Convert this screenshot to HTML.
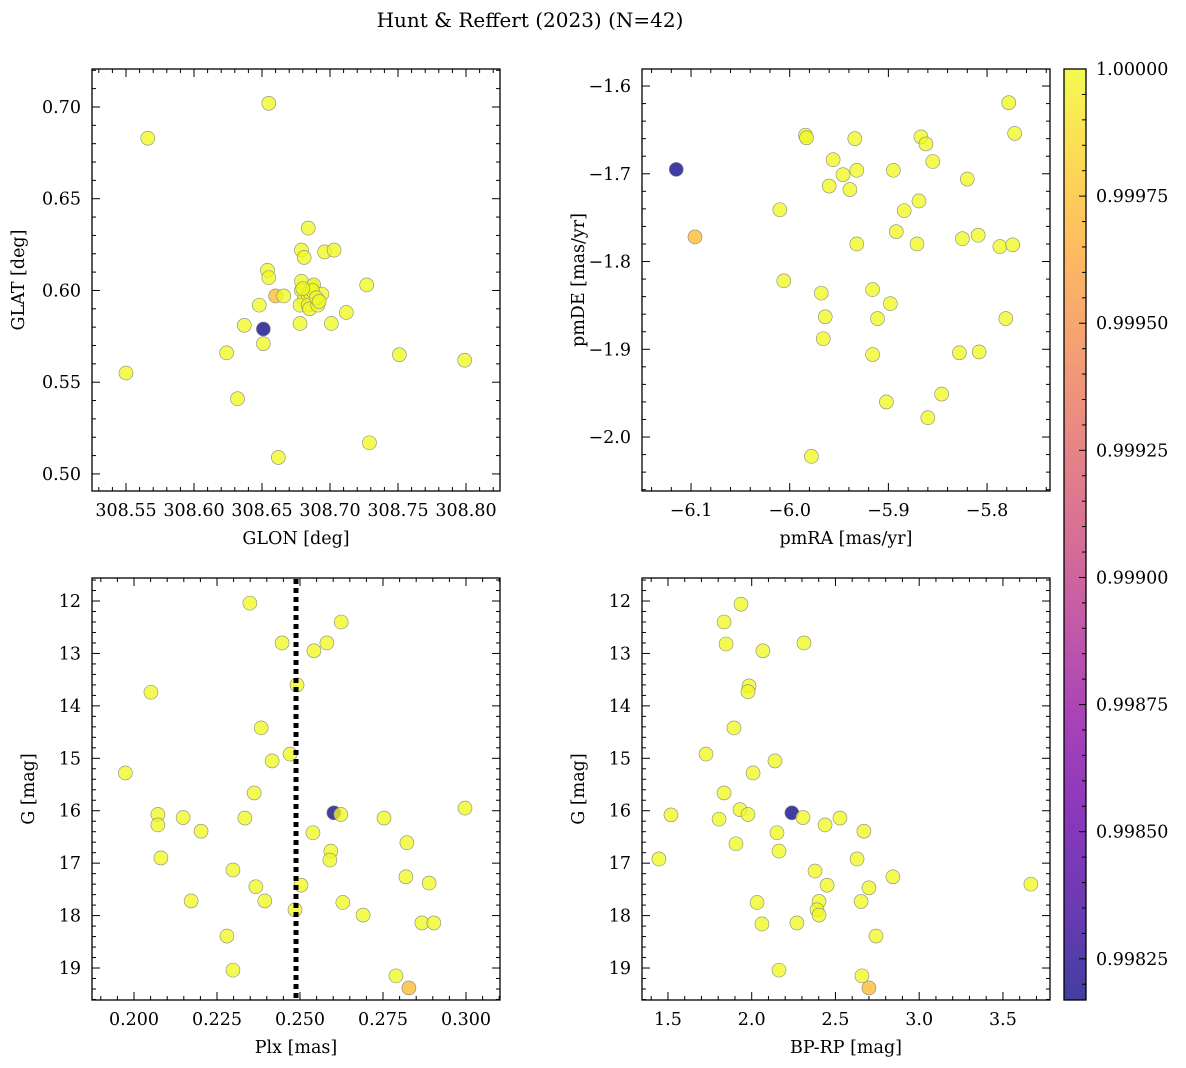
<!DOCTYPE html>
<html><head><meta charset="utf-8"><style>
body{margin:0;background:#fff;}
svg{display:block;}
text{font-family:"DejaVu Serif","Liberation Serif",serif;}
</style></head><body>
<svg id="fig" width="1186" height="1068" xmlns="http://www.w3.org/2000/svg">
<defs>
<linearGradient id="plasma" x1="0" y1="1" x2="0" y2="0">
<stop offset="0" stop-color="#0d0887"/><stop offset="0.1" stop-color="#41049d"/><stop offset="0.2" stop-color="#6a00a8"/><stop offset="0.3" stop-color="#8f0da4"/><stop offset="0.4" stop-color="#b12a90"/><stop offset="0.5" stop-color="#cc4778"/><stop offset="0.6" stop-color="#e16462"/><stop offset="0.7" stop-color="#f2844b"/><stop offset="0.8" stop-color="#fca636"/><stop offset="0.9" stop-color="#fcce25"/><stop offset="1" stop-color="#f0f921"/>
</linearGradient>
</defs>
<text x="530" y="27" font-size="20" text-anchor="middle" font-family="DejaVu Serif, Liberation Serif, serif">Hunt &amp; Reffert (2023) (N=42)</text>
</svg>
<script>
const prob = [0.99817,0.99973].concat(new Array(40).fill(1.0));
const glon = [308.651,308.660,308.655,308.566,308.550,308.632,308.624,308.637,308.651,308.648,308.654,308.655,308.666,308.662,308.678,308.679,308.681,308.684,308.679,308.679,308.681,308.684,308.685,308.687,308.688,308.678,308.684,308.685,308.691,308.694,308.696,308.703,308.701,308.712,308.727,308.729,308.751,308.799,308.687,308.680,308.690,308.692];
const glat = [0.579,0.597,0.702,0.683,0.555,0.541,0.566,0.581,0.571,0.592,0.611,0.607,0.597,0.509,0.582,0.622,0.618,0.634,0.605,0.600,0.595,0.597,0.599,0.602,0.603,0.592,0.592,0.590,0.592,0.598,0.621,0.622,0.582,0.588,0.603,0.517,0.565,0.562,0.600,0.601,0.596,0.594];
const pmra = [-6.115,-6.096,-6.010,-6.006,-5.984,-5.983,-5.956,-5.946,-5.960,-5.939,-5.934,-5.932,-5.932,-5.968,-5.964,-5.966,-5.978,-5.916,-5.911,-5.916,-5.898,-5.902,-5.895,-5.884,-5.892,-5.867,-5.862,-5.855,-5.869,-5.871,-5.860,-5.846,-5.820,-5.825,-5.809,-5.828,-5.808,-5.787,-5.774,-5.778,-5.772,-5.781];
const pmde = [-1.695,-1.772,-1.741,-1.822,-1.656,-1.659,-1.684,-1.701,-1.714,-1.718,-1.660,-1.696,-1.780,-1.836,-1.863,-1.888,-2.022,-1.832,-1.865,-1.906,-1.848,-1.960,-1.696,-1.742,-1.766,-1.658,-1.666,-1.686,-1.731,-1.780,-1.978,-1.951,-1.706,-1.774,-1.770,-1.904,-1.903,-1.783,-1.781,-1.619,-1.654,-1.865];
const plx = [0.2602,0.2828,0.2349,0.2624,0.2446,0.2581,0.2542,0.2491,0.2051,0.2383,0.2470,0.2416,0.1974,0.2362,0.2623,0.2072,0.2997,0.2148,0.2334,0.2753,0.2072,0.2202,0.2539,0.2822,0.2593,0.2081,0.2590,0.2298,0.2819,0.2889,0.2503,0.2367,0.2172,0.2394,0.2629,0.2690,0.2485,0.2867,0.2903,0.2280,0.2298,0.2789];
const gmag = [16.04,19.38,12.04,12.40,12.80,12.80,12.95,13.60,13.74,14.42,14.92,15.05,15.28,15.66,16.07,16.07,15.95,16.13,16.14,16.14,16.27,16.39,16.42,16.61,16.77,16.90,16.94,17.13,17.26,17.38,17.42,17.45,17.72,17.72,17.75,17.99,17.89,18.14,18.14,18.39,19.04,19.15];
const gmag4 = [16.04,19.38,12.06,12.40,12.82,12.80,12.95,13.62,13.73,14.42,14.92,15.05,15.28,15.66,15.98,16.08,16.07,16.13,16.14,16.16,16.27,16.42,16.39,16.63,16.77,16.92,16.92,17.15,17.26,17.40,17.42,17.47,17.75,17.73,17.73,17.89,17.99,18.16,18.14,18.39,19.04,19.15];
const bprp = [2.240,2.700,1.936,1.835,1.847,2.312,2.067,1.984,1.978,1.894,1.727,2.139,2.008,1.835,1.930,1.518,1.978,2.306,2.527,1.805,2.438,2.151,2.670,1.906,2.163,1.446,2.629,2.378,2.843,3.667,2.450,2.700,2.032,2.402,2.653,2.390,2.402,2.061,2.270,2.742,2.163,2.658];
const plxMean = [0.2488];
const cbTicks = [0.99825,0.99850,0.99875,0.99900,0.99925,0.99950,0.99975,1.00000];

const NS="http://www.w3.org/2000/svg";
const FF="DejaVu Serif, Liberation Serif, serif";
const FS=17.5;
const svg=document.getElementById('fig');
function mk(tag,attrs,parent){const e=document.createElementNS(NS,tag);for(const k in attrs)e.setAttribute(k,attrs[k]);if(tag==='text')e.setAttribute('font-family',FF);(parent||svg).appendChild(e);return e;}
const stops=[[0,"#0d0887"],[0.1,"#41049d"],[0.2,"#6a00a8"],[0.3,"#8f0da4"],[0.4,"#b12a90"],[0.5,"#cc4778"],[0.6,"#e16462"],[0.7,"#f2844b"],[0.8,"#fca636"],[0.9,"#fcce25"],[1,"#f0f921"]];
function hex(h){return[1,3,5].map(i=>parseInt(h.substr(i,2),16));}
function plasma(t){t=Math.max(0,Math.min(1,t));for(let i=1;i<stops.length;i++){if(t<=stops[i][0]){const a=stops[i-1],b=stops[i];const f=(t-a[0])/(b[0]-a[0]);const ca=hex(a[1]),cb=hex(b[1]);return 'rgb('+ca.map((v,j)=>Math.round(v+(cb[j]-v)*f)).join(',')+')';}}return stops[10][1];}
const cmin=0.998169,cmax=1.0;
function fmt(v,d){return v.toFixed(d).replace('-','\u2212');}

function panel(name,box,xr,yr,xs,ys,xMaj,xMin,yMaj,yMin,xd,yd,xlab,ylab){
  const [L,T,R,B]=box;
  const g=mk('g',{});
  
  
  const sx=v=>L+(v-xr[0])/(xr[1]-xr[0])*(R-L);
  const sy=v=>B-(v-yr[0])/(yr[1]-yr[0])*(B-T);
  for(let i=0;i<xs.length;i++){
    const c=mk('circle',{cx:sx(xs[i]),cy:sy(ys[i]),r:7,fill:plasma((prob[i]-cmin)/(cmax-cmin)),'fill-opacity':0.78,stroke:'#888','stroke-width':0.6},g);
    
    
  }
  const ax=mk('g',{},g);
  
  
  mk('rect',{x:L,y:T,width:R-L,height:B-T,fill:'none',stroke:'#000','stroke-width':1.3},ax);
  const lo=Math.min(xr[0],xr[1]),hi=Math.max(xr[0],xr[1]);
  for(let k=Math.ceil(lo/xMin-1e-6);k*xMin<=hi+1e-9;k++){const v=k*xMin,x=sx(v);const maj=Math.abs(v/xMaj-Math.round(v/xMaj))<1e-4;const len=maj?8:4;
    mk('line',{x1:x,x2:x,y1:B,y2:B-len,stroke:'#000'},ax);mk('line',{x1:x,x2:x,y1:T,y2:T+len,stroke:'#000'},ax);
    if(maj){const t=mk('text',{x:x,y:B+25,'font-size':FS,'text-anchor':'middle'},ax);t.textContent=fmt(v,xd);}}
  const ylo=Math.min(yr[0],yr[1]),yhi=Math.max(yr[0],yr[1]);
  for(let k=Math.ceil(ylo/yMin-1e-6);k*yMin<=yhi+1e-9;k++){const v=k*yMin,y=sy(v);const maj=Math.abs(v/yMaj-Math.round(v/yMaj))<1e-4;const len=maj?8:4;
    mk('line',{x1:L,x2:L+len,y1:y,y2:y,stroke:'#000'},ax);mk('line',{x1:R,x2:R-len,y1:y,y2:y,stroke:'#000'},ax);
    if(maj){const t=mk('text',{x:L-11,y:y+6,'font-size':FS,'text-anchor':'end'},ax);t.textContent=fmt(v,yd);}}
  const xl=mk('text',{x:(L+R)/2,y:B+53,'font-size':FS,'text-anchor':'middle'},g);xl.textContent=xlab;
  
  
  const cy=(T+B)/2, lx=L-(yd>=2?68:58);
  const yl=mk('text',{x:lx,y:cy,'font-size':FS,'text-anchor':'middle',transform:`rotate(-90 ${lx} ${cy})`},g);yl.textContent=ylab;
  
  
  return {sx,sy,g};
}
panel('glon-glat-panel',[92,69,500,491],[308.525,308.825],[0.4907,0.7207],glon,glat,0.05,0.01,0.05,0.01,2,2,'GLON [deg]','GLAT [deg]');
panel('pm-panel',[642,69,1050,491],[-6.1497,-5.7362],[-2.0615,-1.5806],pmra,pmde,0.1,0.02,0.1,0.02,1,1,'pmRA [mas/yr]','pmDE [mas/yr]');
const p3=panel('plx-g-panel',[92,578,500,1000],[0.18735,0.31024],[19.61,11.561],plx,gmag,0.025,0.005,1,0.2,3,0,'Plx [mas]','G [mag]');
const ml=mk('line',{x1:p3.sx(plxMean[0]),x2:p3.sx(plxMean[0]),y1:579,y2:999,stroke:'#000','stroke-width':5,'stroke-dasharray':'5,4'},p3.g);


panel('cmd-panel',[642,578,1050,1000],[1.345,3.781],[19.61,11.561],bprp,gmag4,0.5,0.1,1,0.2,1,0,'BP-RP [mag]','G [mag]');

const cb=mk('g',{});


const CT=69,CB=1000,CL=1064,CR=1086;
mk('rect',{x:CL,y:CT,width:CR-CL,height:CB-CT,fill:'url(#plasma)','fill-opacity':0.78},cb);
mk('rect',{x:CL,y:CT,width:CR-CL,height:CB-CT,fill:'none',stroke:'#000','stroke-width':1.3},cb);
const cy=v=>CB-(v-cmin)/(cmax-cmin)*(CB-CT);
for(let k=Math.ceil(cmin/0.00005-1e-6);k*0.00005<=cmax+1e-9;k++){const v=k*0.00005;const y=cy(v);const maj=Math.abs(v/0.00025-Math.round(v/0.00025))<1e-3;mk('line',{x1:CR,x2:CR-(maj?7:4),y1:y,y2:y,stroke:'#000'},cb);}
cbTicks.forEach(v=>{const t=mk('text',{x:CR+10,y:cy(v)+6,'font-size':FS},cb);t.textContent=v.toFixed(5);
  
  });
</script>
</body></html>
